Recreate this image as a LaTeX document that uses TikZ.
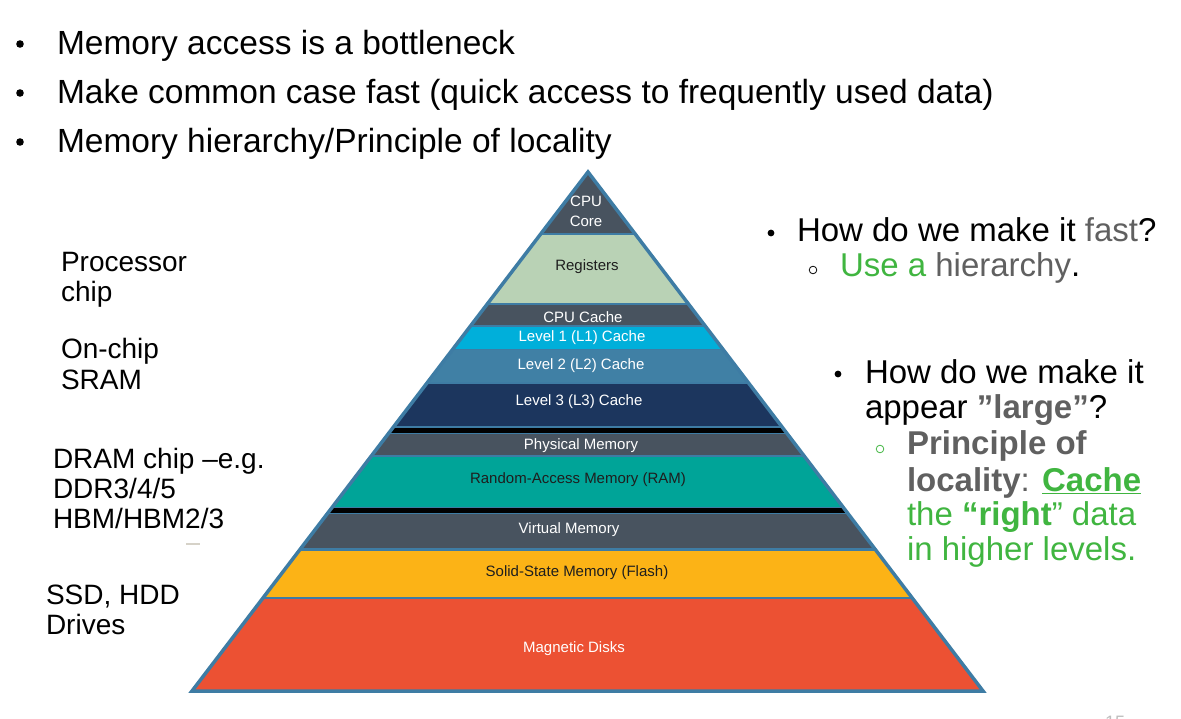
\documentclass[tikz,border=0pt]{standalone}
\usepackage{fontspec}
\setmainfont{Liberation Sans}
\definecolor{pblue}{RGB}{62,124,164}
\definecolor{lgray}{RGB}{72,83,95}
\definecolor{regg}{RGB}{185,210,181}
\definecolor{lone}{RGB}{0,175,218}
\definecolor{ltwo}{RGB}{64,128,165}
\definecolor{lthree}{RGB}{28,54,94}
\definecolor{ramteal}{RGB}{0,164,152}
\definecolor{flashy}{RGB}{252,179,22}
\definecolor{diskred}{RGB}{236,81,51}
\definecolor{tgray}{RGB}{96,96,96}
\definecolor{tgreen}{RGB}{64,181,64}
\definecolor{dark}{RGB}{30,30,30}
\begin{document}
\begin{tikzpicture}[x=1pt,y=-1pt,
  txt/.style={inner sep=0pt, outer sep=0pt, anchor=base west},
  bigtxt/.style={txt, font=\fontsize{33.5}{40}\selectfont},
  sidetxt/.style={txt, font=\fontsize{28}{30}\selectfont},
  righttxt/.style={txt, font=\fontsize{33}{38}\selectfont},
  lbl/.style={inner sep=0pt, outer sep=0pt, font=\fontsize{15}{20}\selectfont, align=center, text=white},
  lbldark/.style={lbl, text=dark},
  layer/.style={fill=#1}]
\useasboundingbox (0,0) rectangle (1181,719);

% ---- top bullet list ----
\fill (20,44) circle (3.8pt);
\fill (20,93) circle (3.8pt);
\fill (20,142) circle (3.8pt);
\node[bigtxt] (top1) at (57,55) {Memory access is a bottleneck};
\node[bigtxt] (top2) at (57,104) {Make common case fast (quick access to frequently used data)};
\node[bigtxt] (top3) at (57,153) {Memory hierarchy/Principle of locality};

% ---- pyramid ----
\begin{scope}
  \clip (588,172) -- (983,691) -- (192,691) -- cycle;
  \fill[pblue] (150,150) rectangle (1030,700);
  \fill[layer=lgray]   (150,150) rectangle (1030,233);
  \fill[layer=regg]    (150,235) rectangle (1030,303);
  \fill[layer=lgray]   (150,305) rectangle (1030,325);
  \fill[layer=lone]    (150,327) rectangle (1030,349);
  \fill[layer=ltwo]    (150,350) rectangle (1030,382);
  \fill[layer=lthree]  (150,384) rectangle (1030,426);
  \fill[layer=black]   (150,427.5) rectangle (1030,433);
  \fill[layer=lgray]   (150,434) rectangle (1030,455);
  \fill[layer=ramteal] (150,457) rectangle (1030,507);
  \fill[layer=black]   (150,508) rectangle (1030,513);
  \fill[layer=lgray]   (150,514) rectangle (1030,548);
  \fill[layer=flashy]  (150,550.5) rectangle (1030,597);
  \fill[layer=diskred] (150,599) rectangle (1030,700);
\end{scope}
\draw[pblue, line width=3.5pt, line join=miter]
  (588,172) -- (983,691) -- (192,691) -- cycle;

\node[lbl] (core) at (586,211) {CPU\\Core};
\node[lbldark] (reg) at (587,267) {Registers};
\node[lbl] (cc) at (583,317) {CPU Cache};
\node[lbl] (l1) at (582,338) {Level 1 (L1) Cache};
\node[lbl] (l2) at (581,366) {Level 2 (L2) Cache};
\node[lbl] (l3) at (579,402) {Level 3 (L3) Cache};
\node[lbl] (phys) at (581,446) {Physical Memory};
\node[lbldark] (ram) at (578,480) {Random-Access Memory (RAM)};
\node[lbl] (virt) at (569,530) {Virtual Memory};
\node[lbldark] (ssd) at (577,573) {Solid-State Memory (Flash)};
\node[lbl] (mag) at (574,649) {Magnetic Disks};

% ---- labels on the left ----
\node[sidetxt] (proc1) at (61,272) {Processor};
\node[sidetxt] (proc2) at (61,302) {chip};
\node[sidetxt] (sram1) at (61,359) {On-chip};
\node[sidetxt] (sram2) at (61,389) {SRAM};
\node[sidetxt] (dram1) at (53,468) {DRAM chip –e.g.};
\node[sidetxt] (dram2) at (53,498) {DDR3/4/5};
\node[sidetxt] (dram3) at (53,528) {HBM/HBM2/3};
\draw[color={rgb,255:red,214;green,210;blue,200}, line width=1.2pt] (186,544) -- (200,544);
\node[sidetxt] (disk1) at (46,604) {SSD, HDD};
\node[sidetxt] (disk2) at (46,634) {Drives};

% ---- notes on the right ----
\fill (771,233) circle (3.4pt);
\node[righttxt] (fast) at (797,242) {How do we make it \textcolor{tgray}{fast}?};
\draw[line width=0.8pt] (813,270) circle (3.8pt);
\node[righttxt] (hier) at (840,277) {\textcolor{tgreen}{Use a} \textcolor{tgray}{hierarchy}.};

\fill (838,374) circle (3.4pt);
\node[righttxt] (large1) at (865,383) {How do we make it};
\node[righttxt] (large2) at (865,418) {appear \textcolor{tgray}{\bfseries ”large”}?};
\draw[tgreen, line width=0.8pt] (880,449) circle (3.8pt);
\node[righttxt] (loc1) at (907,454) {\textcolor{tgray}{\bfseries Principle of}};
\node[righttxt] (loc2) at (907,491) {\textcolor{tgray}{{\bfseries locality}:} \textcolor{tgreen}{\bfseries\underline{Cache}}};
\node[righttxt, text=tgreen] (loc3) at (907,525) {the {\bfseries “right}” data};
\node[righttxt, text=tgreen] (loc4) at (907,560) {in higher levels.};

% ---- page number, cut by the lower edge ----
\node[inner sep=0pt, anchor=north, text={rgb,255:red,190;green,190;blue,190}, font=\fontsize{18}{20}\selectfont] (pageno) at (1115,716) {15};
\end{tikzpicture}
\end{document}
